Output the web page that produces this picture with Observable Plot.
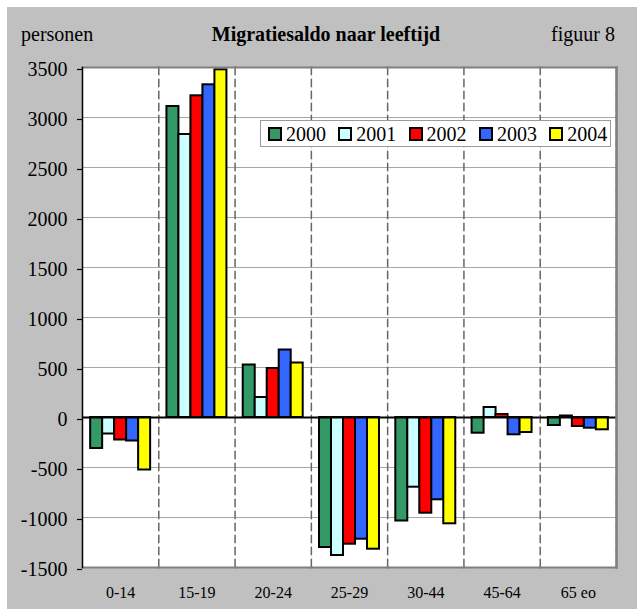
<!DOCTYPE html>
<html>
<head>
<meta charset="utf-8">
<script src="https://cdn.jsdelivr.net/npm/d3@7"></script>
<script src="https://cdn.jsdelivr.net/npm/@observablehq/plot@0.6"></script>
<style>
  html, body { margin: 0; padding: 0; background: #ffffff; }
  #wrap { position: relative; width: 637px; height: 609px; overflow: hidden; font-family: "Liberation Serif", "Times New Roman", serif; color: #000; }
  #bg { position: absolute; left: 7px; top: 7px; right: 0; bottom: 0; background: #c0c0c0; }
  .hdr { position: absolute; top: 24px; font-size: 20px; line-height: 20px; white-space: nowrap; }
  #chart { position: absolute; left: 0; top: 0; }
  #legend { position: absolute; left: 260px; top: 120px; width: 351px; height: 27px; background: #fff; border: 1px solid #9a9a9a; display: flex; align-items: center; padding-left: 7px; box-sizing: border-box; }
  .item { display: flex; align-items: center; margin-right: 12.3px; font-size: 20px; line-height: 20px; }
  .sw { width: 10px; height: 10px; border: 2px solid #000; margin-right: 4px; }
</style>
</head>
<body>
<div id="wrap">
  <div id="bg"></div>
  <div id="chart"></div>
  <div class="hdr" style="left:21px">personen</div>
  <div class="hdr" style="left:0;width:652px;text-align:center;font-weight:bold">Migratiesaldo naar leeftijd</div>
  <div class="hdr" style="right:22px">figuur 8</div>
  <div id="legend"></div>
</div>
<script>
// ---- data ----
const groups = ["0-14", "15-19", "20-24", "25-29", "30-44", "45-64", "65 eo"];
const years = ["2000", "2001", "2002", "2003", "2004"];
const colors = ["#339966", "#ccffff", "#ff0000", "#3366ff", "#ffff00"];
const v2000 = [-310, 3110, 525, -1300, -1035, -157, -80];
const v2001 = [-165, 2830, 200, -1380, -697, 100, 15];
const v2002 = [-225, 3217, 490, -1267, -957, 30, -90];
const v2003 = [-235, 3327, 675, -1217, -823, -173, -107];
const v2004 = [-525, 3477, 545, -1317, -1063, -150, -123];
const yTicks = [-1500, -1000, -500, 0, 500, 1000, 1500, 2000, 2500, 3000, 3500];

const series = [v2000, v2001, v2002, v2003, v2004];
const data = [];
years.forEach((yr, i) => {
  groups.forEach((g, j) => data.push({group: g, year: yr, value: series[i][j]}));
});

const chart = Plot.plot({
  width: 637,
  height: 609,
  marginLeft: 82,
  marginRight: 21,
  marginTop: 67,
  marginBottom: 42,
  style: {background: "transparent", fontFamily: "'Liberation Serif', 'Times New Roman', serif", fontSize: "20px", color: "#000", overflow: "visible"},
  fx: {domain: groups, padding: 0, round: false},
  x: {domain: years, paddingInner: 0, paddingOuter: 0.68, round: false, axis: null},
  y: {domain: [-1500, 3500], axis: null},
  color: {domain: years, range: colors},
  marks: [
    Plot.frame({fill: "#ffffff", stroke: null}),
    Plot.ruleY(yTicks, {stroke: "#a6a6a6", strokeWidth: 1.2}),
    Plot.frame({anchor: "right", stroke: "#666666", strokeWidth: 1.5, strokeDasharray: "7,5"}),
    Plot.barY(data, {fx: "group", x: "year", y: "value", fill: "year", stroke: "#000000", strokeWidth: 2}),
    Plot.ruleY([0], {stroke: "#000000", strokeWidth: 2}),
    Plot.frame({anchor: "top", stroke: "#808080", strokeWidth: 2}),
    Plot.frame({anchor: "bottom", stroke: "#808080", strokeWidth: 2}),
    Plot.frame({anchor: "right", stroke: "#808080", strokeWidth: 2.5, facetAnchor: "right"}),
    Plot.frame({anchor: "left", stroke: "#000000", strokeWidth: 1.5, facetAnchor: "left"}),
    Plot.axisY({ticks: yTicks, tickSize: 5, tickPadding: 10, tickFormat: d => String(d), fontSize: 20, stroke: "#000", strokeWidth: 1.2, dy: 2, label: null}),
    Plot.axisFx({anchor: "bottom", tickSize: 0, tickPadding: 19, fontSize: 16, label: null})
  ]
});
document.getElementById("chart").appendChild(chart);

const legend = document.getElementById("legend");
years.forEach((yr, i) => {
  const it = document.createElement("div");
  it.className = "item";
  const sw = document.createElement("div");
  sw.className = "sw";
  sw.style.background = colors[i];
  const t = document.createElement("span");
  t.textContent = yr;
  it.appendChild(sw);
  it.appendChild(t);
  legend.appendChild(it);
});
</script>
</body>
</html>
